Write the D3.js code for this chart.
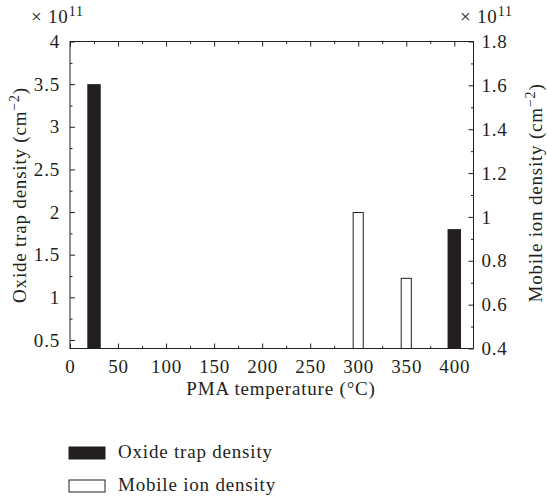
<!DOCTYPE html>
<html>
<head>
<meta charset="utf-8">
<script src="https://cdn.jsdelivr.net/npm/d3@7"></script>
<style>
  body { margin: 0; background: #fff; }
  text { font-family: "Liberation Serif", "DejaVu Serif", serif; fill: #231f20; letter-spacing: 0.8px; }
  .axis path, .axis line { stroke: #231f20; }
</style>
</head>
<body>
<div id="chart"></div>
<script>
// PMA temperature (°C) for each series
var oxideTemps = [25, 400]
var oxideValues = [3.5, 1.8]        // x 10^11 cm^-2, left axis
var mobileTemps = [300, 350]
var mobileValues = [1.02, 0.72]     // x 10^11 cm^-2, right axis

var xTicks = [0, 50, 100, 150, 200, 250, 300, 350, 400]
var leftTicks = [0.5, 1, 1.5, 2, 2.5, 3, 3.5, 4]
var rightTicks = [0.4, 0.6, 0.8, 1, 1.2, 1.4, 1.6, 1.8]
var legendLabels = ["Oxide trap density", "Mobile ion density"]

var width = 547, height = 498
var dark = "#231f20"
var fontSize = 19

var svg = d3.select("#chart").append("svg")
    .attr("width", width)
    .attr("height", height)

var xScale = d3.scaleLinear().domain([0, 420]).range([70, 473.5])
var yLeft = d3.scaleLinear().domain([0.4, 4]).range([348.5, 41.5])
var yRight = d3.scaleLinear().domain([0.4, 1.8]).range([348.5, 41.5])

var x0 = xScale.range()[0], x1 = xScale.range()[1]
var yBot = yLeft.range()[0], yTop = yLeft.range()[1]

// minor ticks
var xMinor = d3.range(25, 420, 50)
var leftMinor = d3.range(0.75, 4, 0.5)
var rightMinor = d3.range(0.5, 1.8, 0.2)

var axisStyle = g => {
    g.attr("class", "axis")
    g.selectAll("text").style("font-size", fontSize + "px").style("font-family", "Liberation Serif")
    g.select(".domain").remove()
}

// bottom
svg.append("g")
    .attr("transform", `translate(0, ${yBot})`)
    .call(d3.axisBottom(xScale).tickValues(xTicks).tickSizeInner(-5).tickSizeOuter(0).tickPadding(11).tickFormat(d3.format("d")))
    .call(axisStyle)
svg.append("g")
    .attr("transform", `translate(0, ${yBot})`)
    .call(d3.axisBottom(xScale).tickValues(xMinor).tickSizeInner(-2.5).tickSizeOuter(0).tickFormat(""))
    .call(axisStyle)
// top
svg.append("g")
    .attr("transform", `translate(0, ${yTop})`)
    .call(d3.axisTop(xScale).tickValues(xTicks).tickSizeInner(-5).tickSizeOuter(0).tickFormat(""))
    .call(axisStyle)
svg.append("g")
    .attr("transform", `translate(0, ${yTop})`)
    .call(d3.axisTop(xScale).tickValues(xMinor).tickSizeInner(-2.5).tickSizeOuter(0).tickFormat(""))
    .call(axisStyle)
// left
svg.append("g")
    .attr("transform", `translate(${x0}, 0)`)
    .call(d3.axisLeft(yLeft).tickValues(leftTicks).tickSizeInner(-5).tickSizeOuter(0).tickPadding(10).tickFormat(d => d))
    .call(axisStyle)
svg.append("g")
    .attr("transform", `translate(${x0}, 0)`)
    .call(d3.axisLeft(yLeft).tickValues(leftMinor).tickSizeInner(-2.5).tickSizeOuter(0).tickFormat(""))
    .call(axisStyle)
// right
svg.append("g")
    .attr("transform", `translate(${x1}, 0)`)
    .call(d3.axisRight(yRight).tickValues(rightTicks).tickSizeInner(-5).tickSizeOuter(0).tickPadding(8).tickFormat(d => d))
    .call(axisStyle)
svg.append("g")
    .attr("transform", `translate(${x1}, 0)`)
    .call(d3.axisRight(yRight).tickValues(rightMinor).tickSizeInner(-2.5).tickSizeOuter(0).tickFormat(""))
    .call(axisStyle)

// frame
svg.append("rect")
    .attr("x", x0).attr("y", yTop)
    .attr("width", x1 - x0).attr("height", yBot - yTop)
    .attr("fill", "none").attr("stroke", dark).attr("stroke-width", 1)

// bars
var blackW = 14, whiteW = 10.5
svg.append("g").selectAll("rect")
    .data(oxideTemps).enter()
    .append("rect")
    .attr("x", (d, i) => xScale(d - blackW / 2))
    .attr("y", (d, i) => yLeft(oxideValues[i]))
    .attr("width", xScale(blackW) - xScale(0))
    .attr("height", (d, i) => yBot - yLeft(oxideValues[i]))
    .attr("fill", dark)

svg.append("g").selectAll("rect")
    .data(mobileTemps).enter()
    .append("rect")
    .attr("x", (d, i) => xScale(d - whiteW / 2))
    .attr("y", (d, i) => yRight(mobileValues[i]))
    .attr("width", xScale(whiteW) - xScale(0))
    .attr("height", (d, i) => yBot - yRight(mobileValues[i]))
    .attr("fill", "#fff").attr("stroke", dark).attr("stroke-width", 1)

// exponent labels
var expo = (x, y) => {
    var t = svg.append("text").attr("x", x).attr("y", y).style("font-size", fontSize + "px")
    t.append("tspan").text("\u00d7 10")
    t.append("tspan").attr("dy", -7).style("font-size", "14px").text("11")
}
expo(31, 23)
expo(460, 23)

// axis titles
var ylab = (x, y, label) => {
    var t = svg.append("text")
        .attr("transform", `translate(${x}, ${y}) rotate(-90)`)
        .attr("text-anchor", "middle")
        .style("font-size", fontSize + "px")
    t.append("tspan").text(label + " (cm")
    t.append("tspan").attr("dy", -7).style("font-size", "14px").text("\u22122")
    t.append("tspan").attr("dy", 7).text(")")
}
ylab(26, 195, "Oxide trap density")
ylab(542, 193, "Mobile ion density")

svg.append("text")
    .attr("x", 281).attr("y", 395)
    .attr("text-anchor", "middle")
    .style("font-size", fontSize + "px")
    .text("PMA temperature (\u00b0C)")

// legend
var legend = svg.append("g").selectAll("g")
    .data(legendLabels).enter()
    .append("g")
    .attr("transform", (d, i) => `translate(69, ${447 + i * 33})`)
legend.append("rect")
    .attr("width", 36).attr("height", 12)
    .attr("fill", (d, i) => i == 0 ? dark : "#fff")
    .attr("stroke", dark).attr("stroke-width", 1)
legend.append("text")
    .attr("x", 49).attr("y", 11)
    .style("font-size", fontSize + "px")
    .text(d => d)
</script>
</body>
</html>
